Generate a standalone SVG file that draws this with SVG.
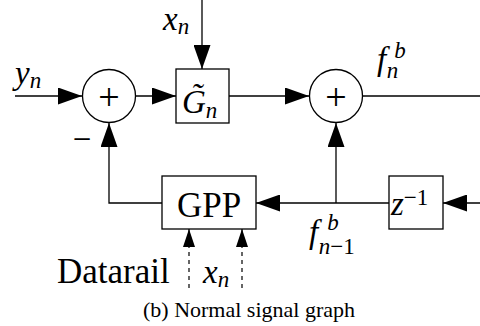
<svg xmlns="http://www.w3.org/2000/svg" width="480" height="326" viewBox="0 0 480 326">
<style>
.ln{fill:none;stroke:#000;stroke-width:1.3}
.dash{fill:none;stroke:#000;stroke-width:1.2;stroke-dasharray:4 4}
.bx{fill:#fff;stroke:#000;stroke-width:1.3}
.t{font-family:"Liberation Serif","DejaVu Serif",serif;fill:#000}
.m{font-family:"Liberation Serif","DejaVu Serif",serif;font-style:italic;fill:#000}
.pl{font-family:"Liberation Serif","DejaVu Serif",serif;font-size:38px;fill:#000;text-anchor:middle}
</style>
<defs>
<marker id="ah" viewBox="0 0 24 17" refX="24" refY="8.5" markerWidth="24" markerHeight="17" markerUnits="userSpaceOnUse" orient="auto"><path d="M0,0 L24,8.5 L0,17 z" fill="#000"/></marker>
<marker id="as" viewBox="0 0 18 12" refX="18" refY="6" markerWidth="18" markerHeight="12" markerUnits="userSpaceOnUse" orient="auto"><path d="M0,0 L18,6 L0,12 z" fill="#000"/></marker>
</defs>
<g id="connectors">
<path class="ln" d="M15,96 H82" marker-end="url(#ah)"/>
<path class="ln" d="M135,96 H176" marker-end="url(#ah)"/>
<path class="ln" d="M202,0 V69" marker-end="url(#ah)"/>
<path class="ln" d="M229,96 H309" marker-end="url(#ah)"/>
<path class="ln" d="M362,96 H480"/>
<path class="ln" d="M336,203 V123" marker-end="url(#ah)"/>
<path class="ln" d="M480,203 H443" marker-end="url(#ah)"/>
<path class="ln" d="M389,203 H256" marker-end="url(#ah)"/>
<path class="ln" d="M162,203 H109 V123" marker-end="url(#ah)"/>
<path class="dash" d="M189,288 V229" marker-end="url(#as)"/>
<path class="dash" d="M242,288 V229" marker-end="url(#as)"/>
</g>
<g id="sum1">
<circle class="bx" cx="109" cy="96" r="26.5"/>
<text class="pl" x="109" y="110">+</text>
</g>
<g id="G">
<rect class="bx" x="176" y="69" width="53" height="54"/>
<text class="m" x="182" y="113" font-size="33">G̃<tspan font-size="23" dy="5">n</tspan></text>
</g>
<g id="sum2">
<circle class="bx" cx="336" cy="96" r="26.5"/>
<text class="pl" x="336" y="110">+</text>
</g>
<g id="GPP">
<rect class="bx" x="162" y="176" width="94" height="53"/>
<text class="t" x="209" y="217" font-size="35" text-anchor="middle">GPP</text>
</g>
<g id="delay">
<rect class="bx" x="389" y="176" width="54" height="53"/>
<text class="m" x="391" y="215" font-size="33">z<tspan class="t" font-style="normal" font-size="23" dy="-10">−1</tspan></text>
</g>
<g id="labels">
<text class="m" x="163" y="30" font-size="33">x<tspan font-size="23" dy="4">n</tspan></text>
<text class="m" x="15" y="84" font-size="33">y<tspan font-size="23" dy="4">n</tspan></text>
<text class="t" x="82" y="150" font-size="33" text-anchor="middle">−</text>
<text class="m" x="377" y="70" font-size="33">f<tspan font-size="23" dx="8" dy="-12">b</tspan><tspan font-size="23" dx="-19" dy="20">n</tspan></text>
<text class="m" x="309" y="243" font-size="33">f<tspan font-size="23" dx="9" dy="-13">b</tspan><tspan font-size="23" dx="-20" dy="24">n</tspan><tspan font-size="23" font-style="normal">−1</tspan></text>
<text class="t" x="57" y="283" font-size="35">Datarail</text>
<text class="m" x="203" y="283" font-size="33">x<tspan font-size="23" dy="4">n</tspan></text>
<text class="t" x="249" y="317" font-size="22" text-anchor="middle">(b) Normal signal graph</text>
</g>
</svg>
